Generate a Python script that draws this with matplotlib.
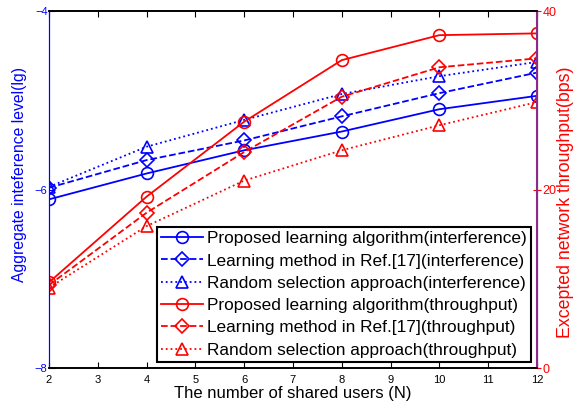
import matplotlib
matplotlib.use('Agg')
from matplotlib import pyplot as plt

plt.rcParams['font.family'] = ['Liberation Sans', 'DejaVu Sans']

users = [2, 4, 6, 8, 10, 12]

# aggregate interference level (lg)
intf_proposed = [-6.11, -5.82, -5.56, -5.35, -5.10, -4.95]
intf_ref17 = [-5.98, -5.67, -5.45, -5.18, -4.92, -4.69]
intf_random = [-5.97, -5.52, -5.22, -4.93, -4.73, -4.57]

# network throughput (bps)
thr_proposed = [9.6, 19.2, 27.6, 34.5, 37.3, 37.5]
thr_ref17 = [9.3, 17.4, 24.2, 30.4, 33.7, 34.7]
thr_random = [9.0, 15.9, 21.0, 24.4, 27.2, 29.8]

labels = ['Proposed learning algorithm(interference)',
          'Learning method in Ref.[17](interference)',
          'Random selection approach(interference)',
          'Proposed learning algorithm(throughput)',
          'Learning method in Ref.[17](throughput)',
          'Random selection approach(throughput)']

fig = plt.figure(figsize=(5.73, 4.07), dpi=100)
ax = fig.add_axes([0.0855, 0.0958, 0.8515, 0.877])
ax2 = ax.twinx()

style = dict(markersize=8.5, markerfacecolor='none', markeredgewidth=1.2, linewidth=1.3)
h1, = ax.plot(users, intf_proposed, '-o', color='blue', label=labels[0], **style)
h2, = ax.plot(users, intf_ref17, '--D', color='blue', label=labels[1], **dict(style, markersize=7.5))
h3, = ax.plot(users, intf_random, ':^', color='blue', label=labels[2], **style)
h4, = ax2.plot(users, thr_proposed, '-o', color='red', label=labels[3], **style)
h5, = ax2.plot(users, thr_ref17, '--D', color='red', label=labels[4], **dict(style, markersize=7.5))
h6, = ax2.plot(users, thr_random, ':^', color='red', label=labels[5], **style)

ax.set_xlim(2, 12)
ax.set_xticks(range(2, 13))
ax.set_ylim(-8, -4)
ax.set_yticks([-8, -6, -4])
ax2.set_ylim(0, 40)
ax2.set_yticks([0, 20, 40])

ax.tick_params(axis='x', direction='in', top=True, labelsize=8, length=4, pad=5)
ax.tick_params(axis='y', direction='in', colors='blue', labelsize=8, length=4, pad=1)
ax2.tick_params(axis='y', direction='inout', colors='red', labelsize=9, length=6, pad=1)

ax.spines['left'].set_color('blue')
ax2.spines['left'].set_color('blue')
ax2.spines['right'].set_color('#8B2A8B')
ax2.spines['right'].set_linewidth(1.5)
for s in ['top', 'bottom']:
    ax.spines[s].set_linewidth(1.2)
    ax2.spines[s].set_linewidth(1.2)

ax.set_xlabel('The number of shared users (N)', fontsize=12, labelpad=1)
ax.set_ylabel('Aggregate inteference level(lg)', fontsize=11.3, color='blue')
ax.yaxis.set_label_coords(-0.046, 0.543)
ax2.set_ylabel('Excepted network throughput(bps)', fontsize=12.8, color='red')
ax2.yaxis.set_label_coords(1.042, 0.465)

leg = ax2.legend(handles=[h1, h2, h3, h4, h5, h6], loc='lower right', fontsize=12.4,
                 fancybox=False, framealpha=1, edgecolor='black', handlelength=2.4,
                 handletextpad=0.25, borderpad=0.25, labelspacing=0.42,
                 borderaxespad=0.35)
leg.get_frame().set_linewidth(1.5)

fig.savefig('out.png', dpi=100)
